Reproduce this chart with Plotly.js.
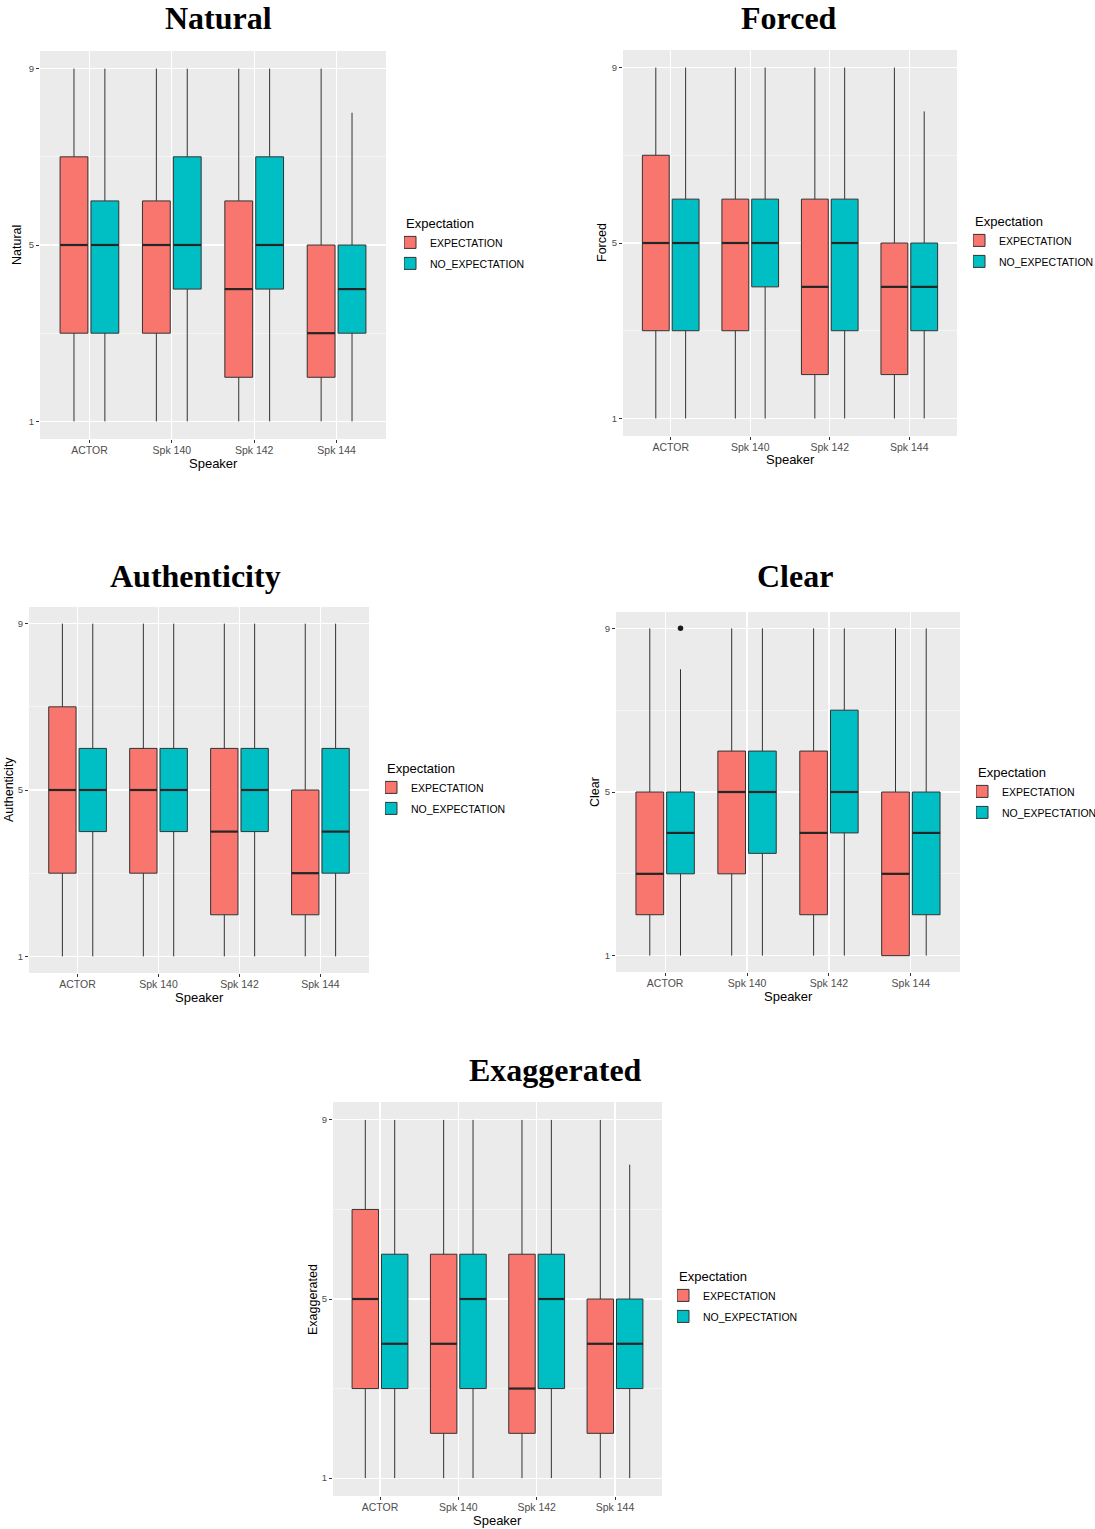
<!DOCTYPE html>
<html>
<head>
<meta charset="utf-8">
<script src="https://cdn.plot.ly/plotly-3.0.1.min.js"></script>
<style>
  html, body { margin: 0; padding: 0; background: #ffffff; }
  #chart { width: 1095px; height: 1529px; }
</style>
</head>
<body>
<div id="chart"></div>
<script>
// Ratings (1-9) by speaker and expectation condition, summarised as box statistics.
const speakers = ['ACTOR', 'Spk 140', 'Spk 142', 'Spk 144'];
const groupNames = ['EXPECTATION', 'NO_EXPECTATION'];
const yTicks = [1, 5, 9];

// Natural
const naturalExpQ1 = [3, 3, 2, 2];
const naturalExpMed = [5, 5, 4, 3];
const naturalExpQ3 = [7, 6, 6, 5];
const naturalExpLo = [1, 1, 1, 1];
const naturalExpHi = [9, 9, 9, 9];
const naturalNoQ1 = [3, 4, 4, 3];
const naturalNoMed = [5, 5, 5, 4];
const naturalNoQ3 = [6, 7, 7, 5];
const naturalNoLo = [1, 1, 1, 1];
const naturalNoHi = [9, 9, 9, 8];

// Forced
const forcedExpQ1 = [3, 3, 2, 2];
const forcedExpMed = [5, 5, 4, 4];
const forcedExpQ3 = [7, 6, 6, 5];
const forcedExpLo = [1, 1, 1, 1];
const forcedExpHi = [9, 9, 9, 9];
const forcedNoQ1 = [3, 4, 3, 3];
const forcedNoMed = [5, 5, 5, 4];
const forcedNoQ3 = [6, 6, 6, 5];
const forcedNoLo = [1, 1, 1, 1];
const forcedNoHi = [9, 9, 9, 8];

// Authenticity
const authExpQ1 = [3, 3, 2, 2];
const authExpMed = [5, 5, 4, 3];
const authExpQ3 = [7, 6, 6, 5];
const authExpLo = [1, 1, 1, 1];
const authExpHi = [9, 9, 9, 9];
const authNoQ1 = [4, 4, 4, 3];
const authNoMed = [5, 5, 5, 4];
const authNoQ3 = [6, 6, 6, 6];
const authNoLo = [1, 1, 1, 1];
const authNoHi = [9, 9, 9, 9];

// Clear
const clearExpQ1 = [2, 3, 2, 1];
const clearExpMed = [3, 5, 4, 3];
const clearExpQ3 = [5, 6, 6, 5];
const clearExpLo = [1, 1, 1, 1];
const clearExpHi = [9, 9, 9, 9];
const clearNoQ1 = [3, 3.5, 4, 2];
const clearNoMed = [4, 5, 5, 4];
const clearNoQ3 = [5, 6, 7, 5];
const clearNoLo = [1, 1, 1, 1];
const clearNoHi = [8, 9, 9, 9];
const clearOutlierSpeaker = ['ACTOR'];
const clearOutlierGroup = ['NO_EXPECTATION'];
const clearOutlierValue = [9];

// Exaggerated
const exagExpQ1 = [3, 2, 2, 2];
const exagExpMed = [5, 4, 3, 4];
const exagExpQ3 = [7, 6, 6, 5];
const exagExpLo = [1, 1, 1, 1];
const exagExpHi = [9, 9, 9, 9];
const exagNoQ1 = [3, 3, 3, 3];
const exagNoMed = [4, 5, 5, 4];
const exagNoQ3 = [6, 6, 6, 5];
const exagNoLo = [1, 1, 1, 1];
const exagNoHi = [9, 9, 9, 8];

const fills = ['#F8766D', '#00BFC4'];
const W = 1095, H = 1529;
const DODGE = 0.1875;       // half of the dodge slot
const BOXW = 0.3375;        // box width in category units
const SANS = 'Liberation Sans, Arial, Helvetica, sans-serif';
const SERIF = 'Liberation Serif, Times New Roman, serif';

function pos(name, g) {
  return speakers.indexOf(name) + 1 + (g === 0 ? -DODGE : DODGE);
}

const panels = [
  { title: 'Natural', px: [40, 386, 51, 439], titleAt: [218, 18], ytAt: 17,
    legendAt: [404, 211],
    stats: [[naturalExpQ1, naturalExpMed, naturalExpQ3, naturalExpLo, naturalExpHi],
            [naturalNoQ1, naturalNoMed, naturalNoQ3, naturalNoLo, naturalNoHi]] },
  { title: 'Forced', px: [623, 957, 50, 436], titleAt: [789, 18], ytAt: 602,
    legendAt: [973, 209],
    stats: [[forcedExpQ1, forcedExpMed, forcedExpQ3, forcedExpLo, forcedExpHi],
            [forcedNoQ1, forcedNoMed, forcedNoQ3, forcedNoLo, forcedNoHi]] },
  { title: 'Authenticity', px: [29, 369, 607, 973], titleAt: [195, 576], ytAt: 9,
    legendAt: [385, 756],
    stats: [[authExpQ1, authExpMed, authExpQ3, authExpLo, authExpHi],
            [authNoQ1, authNoMed, authNoQ3, authNoLo, authNoHi]] },
  { title: 'Clear', px: [616, 960, 612, 972], titleAt: [795, 576], ytAt: 595,
    legendAt: [976, 760],
    stats: [[clearExpQ1, clearExpMed, clearExpQ3, clearExpLo, clearExpHi],
            [clearNoQ1, clearNoMed, clearNoQ3, clearNoLo, clearNoHi]] },
  { title: 'Exaggerated', px: [333, 662, 1102, 1496], titleAt: [555, 1070], ytAt: 313,
    legendAt: [677, 1264],
    stats: [[exagExpQ1, exagExpMed, exagExpQ3, exagExpLo, exagExpHi],
            [exagNoQ1, exagNoMed, exagNoQ3, exagNoLo, exagNoHi]] }
];

const traces = [];
const layout = {
  width: W, height: H,
  margin: { l: 0, r: 0, t: 0, b: 0, autoexpand: false },
  paper_bgcolor: '#ffffff',
  plot_bgcolor: '#EBEBEB',
  boxmode: 'overlay',
  showlegend: true,
  font: { family: SANS, color: '#000000' },
  annotations: []
};

panels.forEach((p, k) => {
  const n = k === 0 ? '' : String(k + 1);
  const xa = 'x' + n, ya = 'y' + n;
  const legendId = 'legend' + n;
  const [x0, x1, y0, y1] = p.px;

  layout['xaxis' + n] = {
    domain: [x0 / W, x1 / W], anchor: ya,
    range: [0.4, 4.6], tickmode: 'array',
    tickvals: speakers.map((s, i) => i + 1), ticktext: speakers,
    showgrid: true, gridcolor: '#ffffff', gridwidth: 1.1,
    zeroline: false, showline: false,
    ticks: 'outside', ticklen: 3, tickwidth: 1, tickcolor: '#333333',
    ticklabelstandoff: -2,
    tickfont: { family: SANS, size: 10.5, color: '#4D4D4D' },
    automargin: false, fixedrange: true
  };
  layout['yaxis' + n] = {
    domain: [1 - y1 / H, 1 - y0 / H], anchor: xa,
    range: [0.6, 9.4], tickmode: 'array', tickvals: yTicks,
    ticktext: yTicks.map(String),
    showgrid: true, gridcolor: '#ffffff', gridwidth: 1.1,
    minor: { tickmode: 'array', tickvals: [3, 7], showgrid: true,
             gridcolor: '#ffffff', gridwidth: 0.5, ticks: '' },
    zeroline: false, showline: false,
    ticks: 'outside', ticklen: 3, tickwidth: 1, tickcolor: '#333333',
    tickfont: { family: SANS, size: 9.5, color: '#4D4D4D' },
    automargin: false, fixedrange: true
  };

  layout[legendId] = {
    x: p.legendAt[0] / W, y: 1 - p.legendAt[1] / H,
    xanchor: 'left', yanchor: 'top',
    bgcolor: 'rgba(0,0,0,0)', borderwidth: 0,
    tracegroupgap: 2, indentation: -14,
    title: { text: 'Expectation', font: { family: SANS, size: 13, color: '#000000' } },
    font: { family: SANS, size: 10.5, color: '#000000' },
    itemclick: false, itemdoubleclick: false
  };

  // boxes and whiskers
  p.stats.forEach((s, g) => {
    traces.push({
      type: 'box', name: groupNames[g], legend: legendId,
      legendgroup: legendId + '-' + g,
      xaxis: xa, yaxis: ya,
      x: speakers.map(sp => pos(sp, g)),
      q1: s[0], median: s[1], q3: s[2], lowerfence: s[3], upperfence: s[4],
      width: BOXW, whiskerwidth: 0,
      fillcolor: fills[g],
      line: { color: '#333333', width: 1 },
      boxpoints: false, hoverinfo: 'skip'
    });
  });

  // thick median bars
  p.stats.forEach((s, g) => {
    const mx = [], my = [];
    speakers.forEach((sp, i) => {
      const c = pos(sp, g);
      mx.push(c - BOXW / 2, c + BOXW / 2, null);
      my.push(s[1][i], s[1][i], null);
    });
    traces.push({
      type: 'scatter', mode: 'lines', xaxis: xa, yaxis: ya,
      x: mx, y: my, showlegend: false, hoverinfo: 'skip',
      line: { color: '#262626', width: 2.2 }
    });
  });

  // panel title
  layout.annotations.push({
    text: p.title, xref: 'paper', yref: 'paper',
    x: p.titleAt[0] / W, y: 1 - p.titleAt[1] / H,
    xanchor: 'center', yanchor: 'middle', showarrow: false,
    font: { family: SERIF, size: 32, color: '#000000', weight: 'bold' }
  });
  // y axis title
  layout.annotations.push({
    text: p.title, xref: 'paper', yref: 'paper',
    x: p.ytAt / W, y: 1 - ((y0 + y1) / 2) / H, textangle: -90,
    xanchor: 'center', yanchor: 'middle', showarrow: false,
    font: { family: SANS, size: 12.5, color: '#000000' }
  });
  // x axis title
  layout.annotations.push({
    text: 'Speaker', xref: 'paper', yref: 'paper',
    x: ((x0 + x1) / 2) / W, y: 1 - (y1 + 24) / H,
    xanchor: 'center', yanchor: 'middle', showarrow: false,
    font: { family: SANS, size: 13, color: '#000000' }
  });
});

// outlying rating in the Clear panel
traces.push({
  type: 'scatter', mode: 'markers', xaxis: 'x4', yaxis: 'y4',
  x: clearOutlierSpeaker.map((sp, i) => pos(sp, groupNames.indexOf(clearOutlierGroup[i]))),
  y: clearOutlierValue, showlegend: false, hoverinfo: 'skip',
  marker: { color: '#1A1A1A', size: 5.5 }
});

Plotly.newPlot('chart', traces, layout, { staticPlot: true, displayModeBar: false });
</script>
</body>
</html>
